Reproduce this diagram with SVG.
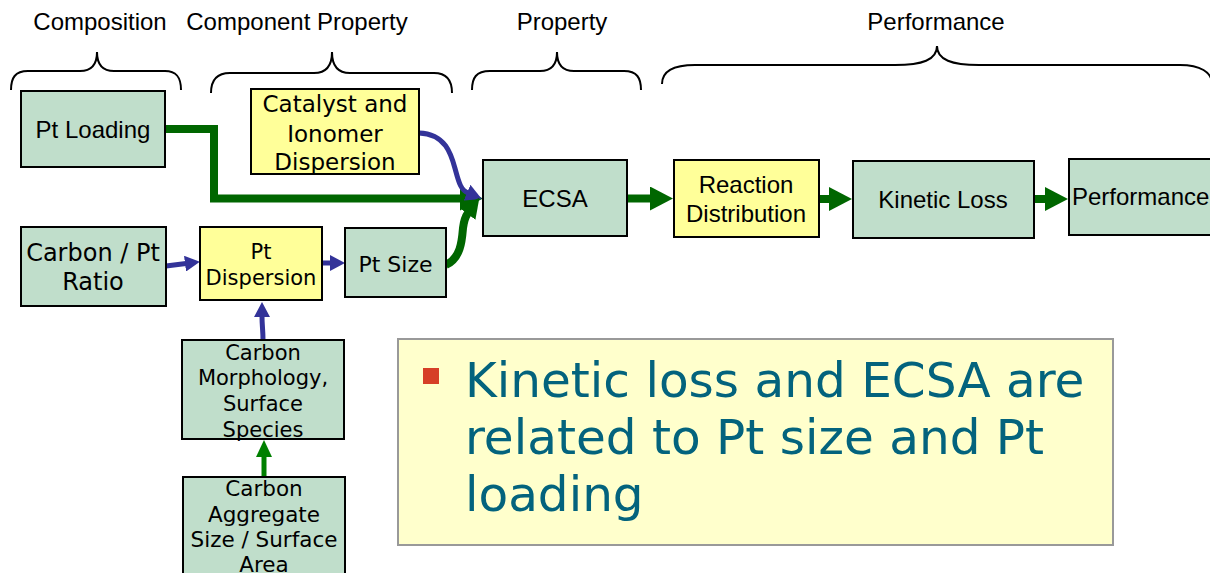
<svg xmlns="http://www.w3.org/2000/svg" width="1210" height="573" viewBox="0 0 1210 573">
<style>
.t{font-family:"Liberation Sans",Arial,sans-serif;font-size:24px;fill:#000;text-anchor:middle}
.v{font-family:"DejaVu Sans",Verdana,sans-serif;fill:#000;text-anchor:middle}
.g{fill:#C0DECB;stroke:#000;stroke-width:2}
.y{fill:#FFFF99;stroke:#000;stroke-width:2}
.br{fill:none;stroke:#000;stroke-width:2}
.cg{fill:none;stroke:#006600;stroke-width:8}
.cb{fill:none;stroke:#333399;stroke-width:5}
.cl{fill:none;stroke:#008000;stroke-width:5}
</style>
<defs>
<marker id="hG" markerUnits="userSpaceOnUse" viewBox="0 0 23 24" markerWidth="23" markerHeight="24" refX="1" refY="12" orient="auto"><path d="M0,0 L23,12 L0,24 z" fill="#006600"/></marker>
<marker id="hGj" markerUnits="userSpaceOnUse" viewBox="0 0 20 20" markerWidth="20" markerHeight="20" refX="1" refY="10" orient="auto"><path d="M0,0 L20,10 L0,20 z" fill="#006600"/></marker>
<marker id="hBj" markerUnits="userSpaceOnUse" viewBox="0 0 16 17" markerWidth="16" markerHeight="17" refX="1" refY="8.5" orient="auto"><path d="M0,0 L16,8.5 L0,17 z" fill="#333399"/></marker>
<marker id="hB" markerUnits="userSpaceOnUse" viewBox="0 0 15 16" markerWidth="15" markerHeight="16" refX="1" refY="8" orient="auto"><path d="M0,0 L15,8 L0,16 z" fill="#333399"/></marker>
<marker id="hL" markerUnits="userSpaceOnUse" viewBox="0 0 17 16" markerWidth="17" markerHeight="16" refX="1" refY="8" orient="auto"><path d="M0,0 L17,8 L0,16 z" fill="#008000"/></marker>
</defs>
<rect width="1210" height="573" fill="#fff"/>

<g id="headers">
<text class="t" x="100" y="30">Composition</text>
<text class="t" x="297" y="30">Component Property</text>
<text class="t" x="562" y="30">Property</text>
<text class="t" x="936" y="30">Performance</text>
<path class="br" d="M11,90 C11,78 15,71 28,71 H80 C91,71 97,65 97,52 C97,65 103,71 114,71 H165 C177,71 181,78 181,90"/>
<path class="br" d="M211,93 C211,81 216,73 230,73 H314 C326,73 332,66 332,52 C332,66 338,73 350,73 H434 C447,73 452,81 452,93"/>
<path class="br" d="M472,90 C472,78 476,71 490,71 H540 C551,71 557,65 557,52 C557,65 563,71 574,71 H624 C637,71 641,78 641,90"/>
<path class="br" d="M662,84 C662,72 672,65 695,65 H895 C922,65 937,60 937,46 C937,60 952,65 979,65 H1180 C1200,65 1212,72 1212,84"/>
</g>

<g id="connectors">
<path class="cg" d="M165,129 H214 V198.5 H461" marker-end="url(#hG)"/>
<path class="cb" d="M419,133 C448,134 452,158 456,172 C459,183 461,190 468,193" marker-end="url(#hBj)"/>
<path class="cg" stroke-width="7" d="M446,265 C461,258 462,240 463,228 C464,220 465,217 468,213" marker-end="url(#hGj)"/>
<path class="cg" d="M627,198.5 H651" marker-end="url(#hG)"/>
<path class="cg" d="M819,199 H830" marker-end="url(#hG)"/>
<path class="cg" d="M1034,199 H1046" marker-end="url(#hG)"/>
<path class="cb" d="M166,266 L186,263.5" marker-end="url(#hB)"/>
<path class="cb" d="M322,263 H331" marker-end="url(#hB)"/>
<path class="cb" d="M263,340 C263,330 262,326 262,316" marker-end="url(#hB)"/>
<path class="cl" d="M264,477 V456" marker-end="url(#hL)"/>
</g>

<g id="n-ptloading"><rect class="g" x="21" y="91" width="144" height="76"/><text class="t" x="93" y="138">Pt Loading</text></g>
<g id="n-catalyst"><rect class="y" x="251" y="89" width="168" height="85"/><text class="v" font-size="23" x="335" y="112">Catalyst and</text><text class="v" font-size="23" x="335" y="142">Ionomer</text><text class="v" font-size="23" x="335" y="170">Dispersion</text></g>
<g id="n-ecsa"><rect class="g" x="483" y="160" width="144" height="76"/><text class="t" x="555" y="207">ECSA</text></g>
<g id="n-reaction"><rect class="y" x="674" y="160" width="145" height="77"/><text class="t" x="746" y="193">Reaction</text><text class="t" x="746" y="222">Distribution</text></g>
<g id="n-kinetic"><rect class="g" x="853" y="161" width="181" height="77"/><text class="t" x="943" y="208">Kinetic Loss</text></g>
<g id="n-performance"><rect class="g" x="1069" y="159" width="150" height="76"/><text class="t" x="1072" y="205" style="text-anchor:start">Performance</text></g>
<g id="n-carbonpt"><rect class="g" x="21" y="227" width="145" height="79"/><text class="v" font-size="24" x="93" y="261">Carbon / Pt</text><text class="v" font-size="24" x="93" y="290">Ratio</text></g>
<g id="n-ptdisp"><rect class="y" x="200" y="227" width="122" height="73"/><text class="v" font-size="21" x="261" y="259">Pt</text><text class="v" font-size="21" x="261" y="285">Dispersion</text></g>
<g id="n-ptsize"><rect class="g" x="345" y="228" width="101" height="69"/><text class="v" font-size="22" x="395.5" y="272">Pt Size</text></g>
<g id="n-morph"><rect class="g" x="182" y="340" width="162" height="99"/><text class="v" font-size="21" x="263" y="360">Carbon</text><text class="v" font-size="21" x="263" y="385">Morphology,</text><text class="v" font-size="21" x="263" y="411">Surface</text><text class="v" font-size="21" x="263" y="437">Species</text></g>
<g id="n-aggregate"><rect class="g" x="183" y="477" width="162" height="110"/><text class="v" font-size="21.5" x="264" y="496">Carbon</text><text class="v" font-size="21.5" x="264" y="522">Aggregate</text><text class="v" font-size="21.5" x="264" y="547">Size / Surface</text><text class="v" font-size="21.5" x="264" y="572">Area</text></g>

<g id="note">
<rect x="398" y="339" width="715" height="206" fill="#FFFFCC" stroke="#999" stroke-width="2"/>
<rect x="423" y="368" width="16" height="16" fill="#D63F27"/>
<text font-family="'DejaVu Sans',Verdana,sans-serif" font-size="48.5" fill="#03637D" x="465" y="397">Kinetic loss and ECSA are</text>
<text font-family="'DejaVu Sans',Verdana,sans-serif" font-size="48.5" fill="#03637D" x="465" y="454">related to Pt size and Pt</text>
<text font-family="'DejaVu Sans',Verdana,sans-serif" font-size="48.5" fill="#03637D" x="465" y="511">loading</text>
</g>
</svg>
